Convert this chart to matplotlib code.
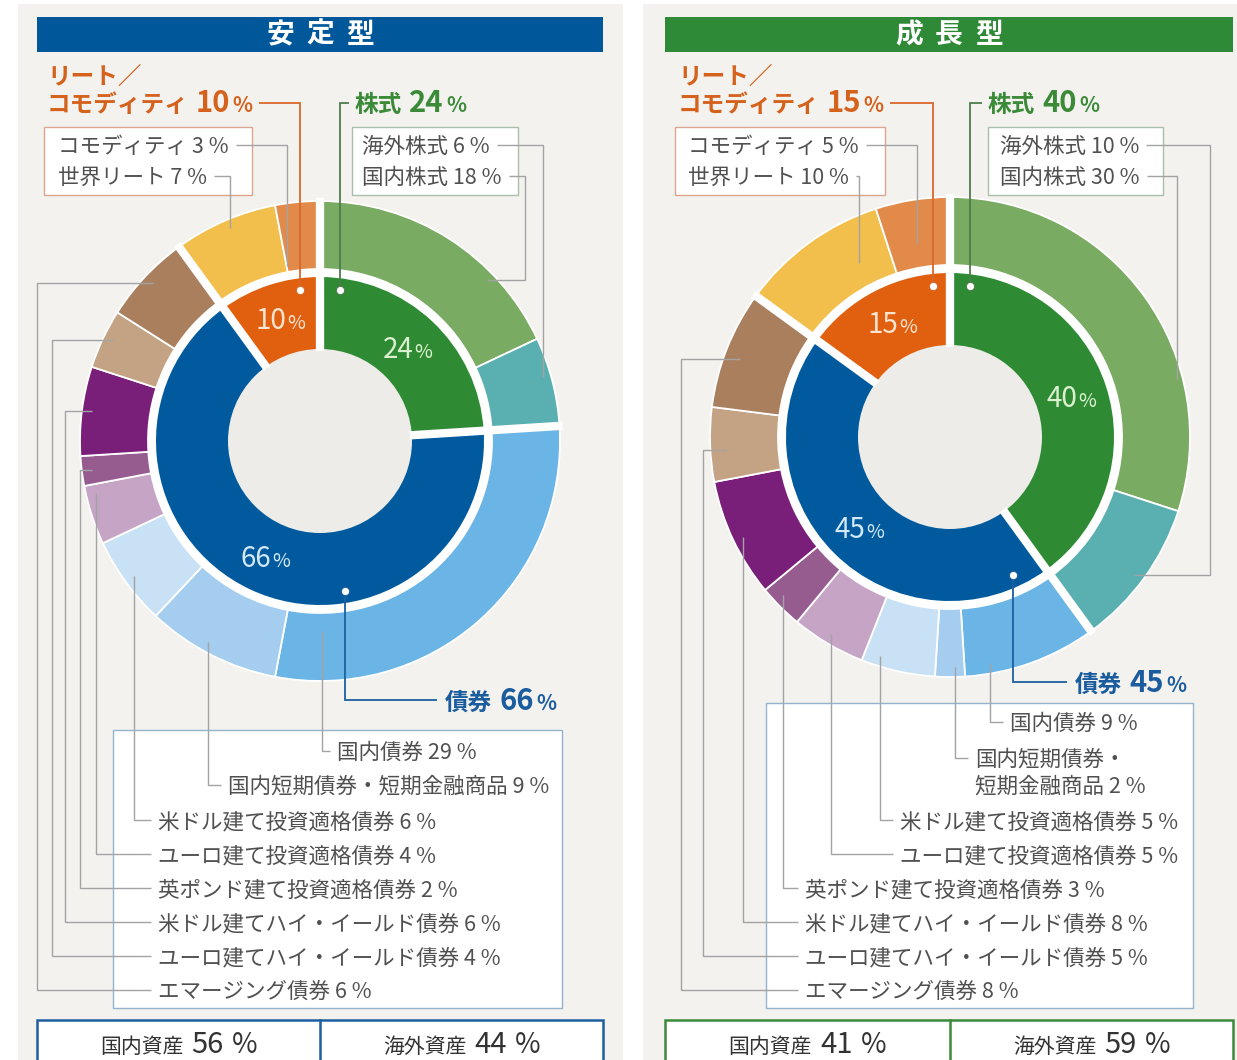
import matplotlib
matplotlib.use('Agg')
import matplotlib.pyplot as plt
from matplotlib.patches import Rectangle, Circle
import numpy as np

plt.rcParams['font.family'] = ['Noto Sans CJK JP', 'DejaVu Sans']

W, H = 1237, 1060

# ---------------- data ----------------
panel_titles = ['安定型', '成長型']
main_labels = ['株式', '債券', 'リート／コモディティ']
stable_main = [24, 66, 10]
growth_main = [40, 45, 15]
sub_labels = ['国内株式', '海外株式', '国内債券', '国内短期債券・短期金融商品',
              '米ドル建て投資適格債券', 'ユーロ建て投資適格債券', '英ポンド建て投資適格債券',
              '米ドル建てハイ・イールド債券', 'ユーロ建てハイ・イールド債券', 'エマージング債券',
              '世界リート', 'コモディティ']
stable_sub = [18, 6, 29, 9, 6, 4, 2, 6, 4, 6, 7, 3]
growth_sub = [30, 10, 9, 2, 5, 5, 3, 8, 5, 8, 10, 5]
region_labels = ['国内資産', '海外資産']
stable_region = [56, 44]
growth_region = [41, 59]

main_colors = ['#2e8b34', '#005a9d', '#e0600f']
main_text_colors = ['#dcf1d0', '#d3e8f8', '#fde4d0']
sub_colors = ['#7aab62', '#5aafb1', '#6ab4e6', '#a4cdef', '#c9e1f5', '#c6a4c5',
              '#965b8f', '#7a1f79', '#c4a385', '#aa7f5e', '#f2bf4c', '#e28a4a']

BG = '#f3f2ef'
HOLE = '#edece8'
GRAY_TXT = '#505050'
LEAD = '#a3a3a3'
ORANGE_T = '#d5621c'
GREEN_T = '#3a8a38'
BLUE_T = '#1b5c9e'

fig = plt.figure(figsize=(W / 100, H / 100), dpi=100)
fig.patch.set_facecolor('white')
ax = fig.add_axes([0, 0, 1, 1])
renderer = fig.canvas.get_renderer()


def Y(y):
    return H - y


def rich(x, y, parts, ha='left', z=8):
    """parts: (text, size, weight, color, gap_after). y = baseline (pixel, y-down)."""
    objs = []
    total = 0
    for s, size, weight, color, gap in parts:
        t = ax.text(0, 0, s, fontsize=size, fontweight=weight, color=color,
                    ha='left', va='baseline', zorder=z)
        w = t.get_window_extent(renderer=renderer).width
        objs.append((t, w, gap))
        total += w + gap
    total -= objs[-1][2]
    if ha == 'center':
        x0 = x - total / 2
    elif ha == 'right':
        x0 = x - total
    else:
        x0 = x
    start = x0
    for t, w, gap in objs:
        t.set_position((x0, Y(y)))
        x0 += w + gap
    return start, start + total


def rect(x0, y0, x1, y1, fc, ec='none', lw=0, z=1):
    ax.add_patch(Rectangle((x0, Y(y1)), x1 - x0, y1 - y0, facecolor=fc,
                           edgecolor=ec, linewidth=lw, zorder=z))


def poly(pts, color=LEAD, lw=1.0, z=5):
    xs = [p[0] for p in pts]
    ys = [Y(p[1]) for p in pts]
    ax.plot(xs, ys, color=color, lw=lw, zorder=z, solid_capstyle='butt',
            solid_joinstyle='miter')


panels = [
    dict(title=panel_titles[0], main=stable_main, sub=stable_sub, region=stable_region,
         px=(18, 623), bar=(37, 603), bar_color='#00589b', frame_color='#1d5fa0',
         cx=320, cy=441,
         rc_box=(44, 127, 252, 195), rc_tx=58, eq_box=(352, 127, 518, 195), eq_tx=362,
         rc_head_x=47, eq_head_x=355, bond_head=(445, 700),
         dots_x=(340, 345, 300),
         top_leaders={11: (145, 287, ('v', 178)), 10: (176, 230, ('v', 231)),
                      1: (145, 543, ('v', 232)), 0: (176, 525, ('h', 280, 232))},
         bond_box=(113, 730, 562, 1008),
         bond_rows={2: (337, 751, 322, ('v', 190)), 3: (228, 785, 208, ('v', 230)),
                    4: (158, 820, 134, ('v', 230)), 5: (158, 854, 96, ('v', 230)),
                    6: (158, 888, 80, ('h', 470, 230)), 7: (158, 922, 65, ('h', 411, 230)),
                    8: (158, 956, 52, ('h', 340, 230)), 9: (158, 990, 37, ('h', 283, 230))},
         split_short=False,
         summary=(37, 1020, 603, 320)),
    dict(title=panel_titles[1], main=growth_main, sub=growth_sub, region=growth_region,
         px=(643, 1237), bar=(665, 1233), bar_color='#2f8a37', frame_color='#3a8a3a',
         cx=950, cy=437,
         rc_box=(675, 127, 885, 195), rc_tx=688, eq_box=(988, 127, 1163, 195), eq_tx=1000,
         rc_head_x=678, eq_head_x=988, bond_head=(1075, 682),
         dots_x=(970, 1013, 933),
         top_leaders={11: (145, 917, ('v', 196)), 10: (176, 859, ('v', 196)),
                      1: (145, 1210, ('h', 575, 230)), 0: (176, 1177, ('v', 234))},
         bond_box=(766, 703, 1193, 1008),
         bond_rows={2: (1010, 722, 990, ('v', 230)), 3: (975, 758, 955, ('v', 230)),
                    4: (900, 820, 880, ('v', 230)), 5: (900, 854, 831, ('v', 230)),
                    6: (805, 888, 783, ('v', 230)), 7: (805, 922, 743, ('v', 230)),
                    8: (805, 956, 703, ('h', 450, 224)), 9: (805, 990, 681, ('h', 359, 224))},
         split_short=True,
         summary=(665, 1020, 1233, 950)),
]

R_OUT, W_OUT = 240, 68
R_IN, W_IN = 164, 72
R_GAP = 172
R_HOLE = 92


def leader(x_start, row_y, vx, final, cx, cy):
    pts = [(x_start, row_y), (vx, row_y)]
    if final[0] == 'v':
        r = final[1]
        d = np.sqrt(max(r ** 2 - (vx - cx) ** 2, 0))
        yy = cy - d if row_y < cy else cy + d
        pts.append((vx, yy))
    else:
        yh, r = final[1], final[2]
        d = np.sqrt(max(r ** 2 - (yh - cy) ** 2, 0))
        xx = cx - d if vx < cx else cx + d
        pts += [(vx, yh), (xx, yh)]
    poly(pts)


for p in panels:
    cx, cy = p['cx'], p['cy']
    # panel background
    rect(p['px'][0], 4, p['px'][1], H + 2, BG, z=0)
    # title bar
    rect(p['bar'][0], 17, p['bar'][1], 52, p['bar_color'], z=1)
    tc = (p['bar'][0] + p['bar'][1]) / 2
    for k, ch in enumerate(p['title']):
        ax.text(tc + (k - 1) * 40, Y(35), ch, fontsize=20, fontweight='bold',
                color='white', ha='center', va='center', zorder=2)

    # donut
    ax.add_patch(Circle((cx, Y(cy)), R_GAP, facecolor='white', edgecolor='none', zorder=0.5))
    ax.pie(p['main'], radius=R_IN, center=(cx, Y(cy)), startangle=90, counterclock=False,
           colors=main_colors, wedgeprops=dict(width=R_IN - R_HOLE + 2, linewidth=0),
           frame=True)
    ax.pie(p['sub'], radius=R_OUT, center=(cx, Y(cy)), startangle=90, counterclock=False,
           colors=sub_colors, wedgeprops=dict(width=W_OUT, edgecolor='white', linewidth=1.3),
           frame=True)
    ax.add_patch(Circle((cx, Y(cy)), R_HOLE, facecolor=HOLE, edgecolor='none', zorder=3))
    tot = float(sum(p['main']))
    cum = np.concatenate([[0], np.cumsum(p['main'])]) / tot
    for f in cum[:-1]:
        th = 2 * np.pi * f
        xs = [cx + (R_HOLE - 2) * np.sin(th), cx + (R_OUT + 3) * np.sin(th)]
        ys = [Y(cy - (R_HOLE - 2) * np.cos(th)), Y(cy - (R_OUT + 3) * np.cos(th))]
        ax.plot(xs, ys, color='white', lw=6, solid_capstyle='butt', zorder=4)
    # inner percentage labels
    for i, v in enumerate(p['main']):
        th = 2 * np.pi * (cum[i] + cum[i + 1]) / 2
        lx = cx + 128 * np.sin(th)
        ly = cy - 128 * np.cos(th)
        rich(lx, ly + 10, [(f'{v}', 20, 'normal', main_text_colors[i], 1),
                           ('%', 14, 'normal', main_text_colors[i], 0)], ha='center')

    # dots on inner ring
    dot_y = []
    for i, dx in enumerate(p['dots_x']):
        d = np.sqrt(152 ** 2 - (dx - cx) ** 2)
        dot_y.append(cy + d if i == 1 else cy - d)

    # ---- header: REIT / commodity
    rc_idx = 2
    rich(p['rc_head_x'], 84, [('リート／', 17, 'bold', ORANGE_T, 0)])
    _, e = rich(p['rc_head_x'], 112, [('コモディティ', 17, 'bold', ORANGE_T, 7),
                                      (f'{p["main"][2]}', 21, 'bold', ORANGE_T, 2),
                                      ('%', 15, 'bold', ORANGE_T, 0)])
    poly([(e + 7, 103), (p['dots_x'][2], 103), (p['dots_x'][2], dot_y[2])],
         color='#d9682a', lw=1.3, z=5)
    # ---- header: equity
    rich(p['eq_head_x'], 112, [('株式', 17, 'bold', GREEN_T, 7),
                               (f'{p["main"][0]}', 21, 'bold', GREEN_T, 3),
                               ('%', 15, 'bold', GREEN_T, 0)])
    poly([(p['eq_head_x'] - 6, 103), (p['dots_x'][0], 103), (p['dots_x'][0], dot_y[0])],
         color='#4c7d4c', lw=1.3, z=5)
    # ---- header: bonds
    bx, by = p['bond_head']
    rich(bx, by + 10, [('債券', 17, 'bold', BLUE_T, 7),
                       (f'{p["main"][1]}', 21, 'bold', BLUE_T, 3),
                       ('%', 15, 'bold', BLUE_T, 0)])
    poly([(p['dots_x'][1], dot_y[1]), (p['dots_x'][1], by), (bx - 8, by)],
         color='#1d5f9f', lw=1.3, z=5)
    colors_dot = ['#4c7d4c', '#1d5f9f', '#d9682a']
    for i, dx in enumerate(p['dots_x']):
        ax.plot([dx], [Y(dot_y[i])], 'o', ms=6, mfc='white', mec=colors_dot[i], mew=0.8,
                zorder=6)

    # ---- top boxes
    x0, y0, x1, y1 = p['rc_box']
    rect(x0, y0, x1, y1, 'white', ec='#dca58d', lw=1.0, z=2)
    x0, y0, x1, y1 = p['eq_box']
    rect(x0, y0, x1, y1, 'white', ec='#a9bfa9', lw=1.0, z=2)
    for idx, (ry, vx, final) in p['top_leaders'].items():
        tx = p['rc_tx'] if idx >= 10 else p['eq_tx']
        _, e = rich(tx, ry + 8, [(f'{sub_labels[idx]} {p["sub"][idx]} %', 15.5, 'normal',
                                  GRAY_TXT, 0)])
        leader(e + 7, ry, vx, final, cx, cy)

    # ---- bond box
    x0, y0, x1, y1 = p['bond_box']
    rect(x0, y0, x1, y1, 'white', ec='#93b3cf', lw=1.0, z=2)
    for idx, (tx, ry, vx, final) in p['bond_rows'].items():
        name = sub_labels[idx]
        val = p['sub'][idx]
        if idx == 3 and p['split_short']:
            a, b = name.split('・')
            rich(tx, ry + 8, [(a + '・', 15.5, 'normal', GRAY_TXT, 0)])
            rich(tx, ry + 35, [(f'{b} {val} %', 15.5, 'normal', GRAY_TXT, 0)])
        else:
            rich(tx, ry + 8, [(f'{name} {val} %', 15.5, 'normal', GRAY_TXT, 0)])
        leader(tx - 7, ry, vx, final, cx, cy)

    # ---- summary box
    sx0, sy0, sx1, sdiv = p['summary']
    rect(sx0, sy0, sx1, H + 5, 'white', ec=p['frame_color'], lw=1.8, z=2)
    ax.plot([sdiv, sdiv], [Y(sy0), Y(H + 5)], color=p['frame_color'], lw=1.8, zorder=3)
    centers = [(sx0 + sdiv) / 2, (sdiv + sx1) / 2]
    for k in range(2):
        rich(centers[k], 1053, [(region_labels[k], 15, 'normal', '#333333', 8),
                                (f'{p["region"][k]}', 21, 'normal', '#333333', 8),
                                ('%', 20, 'normal', '#333333', 0)], ha='center')

ax.set_xlim(0, W)
ax.set_ylim(0, H)
ax.set_aspect('auto')
ax.axis('off')
fig.savefig('out.png', dpi=100, facecolor='white')
